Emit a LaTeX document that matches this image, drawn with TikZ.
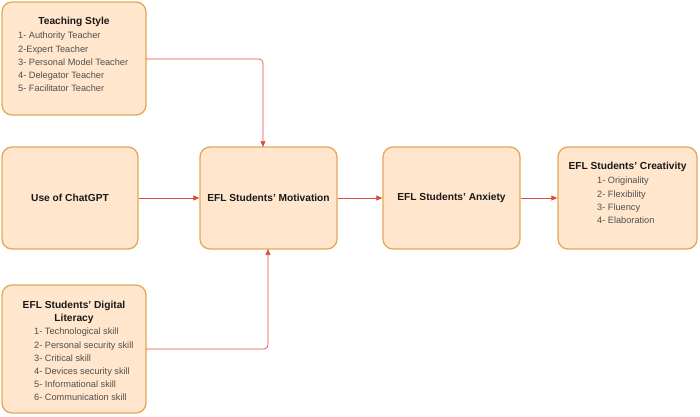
\documentclass[tikz,border=0pt]{standalone}
\usepackage{fontspec}
\setmainfont{Liberation Sans}
\usetikzlibrary{arrows.meta}
\definecolor{boxfill}{HTML}{FFE6CC}
\definecolor{boxdraw}{HTML}{E3A857}
\definecolor{arr}{HTML}{D9503A}
\definecolor{itm}{HTML}{505050}
\begin{document}
\begin{tikzpicture}[x=1pt,y=-1pt,
  box/.style={draw=boxdraw,line width=1.3pt,fill=boxfill,rounded corners=10pt},
  ttl/.style={font=\fontsize{10.2}{13}\selectfont\bfseries,align=center,text=black!90},
  lst/.style={font=\fontsize{9.2}{13.2}\selectfont,align=left,text=itm,anchor=north west,inner sep=0pt},
  con/.style={draw=arr,line width=0.7pt,rounded corners=4pt,-{Triangle[length=6pt,width=5pt]}}]
\useasboundingbox (0,0) rectangle (700,416);
% boxes
\draw[box] (2,2) rectangle (146,115);
\node[ttl] (tst) at (74,22) {Teaching Style};
\node[lst] (tsl) at (18,32) {1- Authority Teacher\\2-Expert Teacher\\3- Personal Model Teacher\\4- Delegator Teacher\\5- Facilitator Teacher};
\node[box,minimum width=136pt,minimum height=102pt] (gpt) at (70,198) {};
\node[ttl] at (gpt) {Use of ChatGPT};
\node[box,minimum width=137pt,minimum height=102pt] (mot) at (268.5,198) {};
\node[ttl] at (mot) {EFL Students' Motivation};
\node[box,minimum width=137pt,minimum height=102pt] (anx) at (451.5,198) {};
\node[ttl] at (anx) {EFL Students' Anxiety};
\node[box,minimum width=139pt,minimum height=102pt] (cre) at (627.5,198) {};
\node[ttl] (cret) at (627.5,167) {EFL Students' Creativity};
\node[lst] (crel) at (597,177) {1- Originality\\2- Flexibility\\3- Fluency\\4- Elaboration};
\draw[box] (2,285) rectangle (146,413);
\node[ttl] (dlt) at (74,312) {EFL Students' Digital\\Literacy};
\node[lst] (dll) at (34,328) {1- Technological skill\\2- Personal security skill\\3- Critical skill\\4- Devices security skill\\5- Informational skill\\6- Communication skill};
\coordinate (tsr) at (146,59);
\coordinate (dlr) at (146,349);
% connectors
\draw[con] (tsr) -| (263,147);
\draw[con] (dlr) -| (268,249);
\draw[con] (gpt.east) -- (mot.west);
\draw[con] (mot.east) -- (anx.west);
\draw[con] (anx.east) -- (cre.west);
\end{tikzpicture}
\end{document}
